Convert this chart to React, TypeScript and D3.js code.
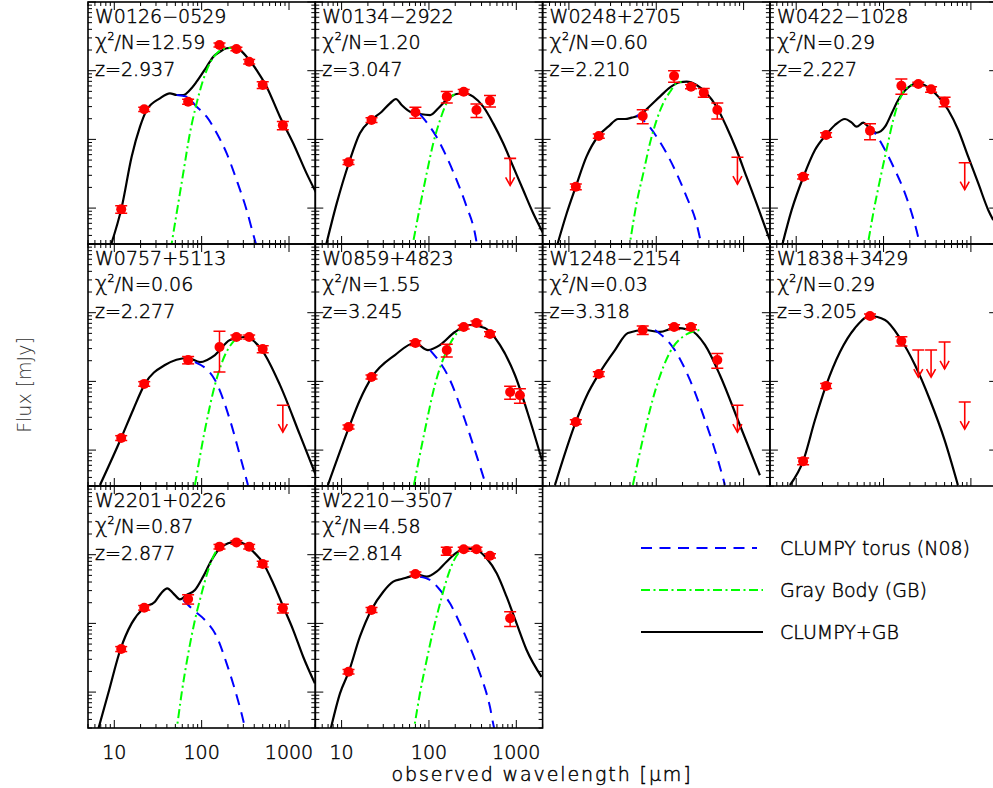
import React from "react";
import * as d3 from "d3";

// ---------- text ----------
const names = ["W0126−0529", "W0134−2922", "W0248+2705", "W0422−1028", "W0757+5113", "W0859+4823", "W1248−2154", "W1838+3429", "W2201+0226", "W2210−3507"];
const chi2 = ["12.59", "1.20", "0.60", "0.29", "0.06", "1.55", "0.03", "0.29", "0.87", "4.58"];
const redshifts = ["2.937", "3.047", "2.210", "2.227", "2.277", "3.245", "3.318", "3.205", "2.877", "2.814"];
const xTickLabels = [10, 100, 1000];
const legendLabels = ["CLUMPY torus (N08)", "Gray Body (GB)", "CLUMPY+GB"];

const lambdaRange = [5, 2000]; // micron
const fluxRange = [0.3, 1000]; // mJy

// ---------- data: [lambda(um), flux(mJy), err] or [lambda, flux, errLo, errHi] ----------
const phot0 = [[12, 0.96, 0.12], [22, 27.4, 2], [70, 35.4, 3], [160, 237, 15], [250, 207, 12], [350, 135, 10], [500, 62, 7], [850, 16, 2.2]];
const ul0: number[][] = [];
const total0 = [[8.8, 0.25], [12.2, 1.05], [15.8, 5.6], [19.7, 15.3], [23.5, 26.8], [33.3, 39.6], [43.4, 46.9], [51.7, 44.3], [61.5, 44.3], [73.4, 52.4], [87.6, 69.2], [114, 114], [136, 160], [162, 189], [193, 212], [230, 216], [274, 200], [327, 160], [426, 102], [554, 58.5], [787, 21.4], [1117, 8.8], [1589, 3.2], [2256, 1.31]];
const torus0 = [[51.7, 44.3], [67.3, 41.9], [87.6, 29.9], [114, 21.4], [149, 12.3], [193, 6.3], [251, 2.57], [327, 0.94], [407, 0.34], [465, 0.19]];
const gb0 = [[44.2, 0.25], [51.7, 0.84], [61.5, 3.2], [73.4, 12.3], [87.6, 33.5], [104, 73.2], [124, 128], [149, 179], [177, 207], [230, 216]];

const phot1 = [[12, 4.65, 0.35], [22, 19.1, 1.5], [70, 24.8, 4.5], [160, 41.9, 8], [250, 49.4, 4], [350, 26.8, 6], [500, 36.6, 7]];
const ul1 = [[850, 5.3]];
const total1 = [[6.46, 0.25], [8.79, 1.17], [12.2, 4.65], [16.2, 12.3], [21.7, 19.1], [28.8, 25.3], [35.8, 33.5], [41.9, 38.7], [48.7, 31.7], [60.7, 25.3], [78.9, 23.4], [103, 22.6], [128, 28.4], [159, 37.5], [207, 45.8], [258, 46.9], [321, 41.9], [418, 29.9], [544, 17.1], [708, 8.77], [922, 4.0], [1199, 1.83], [1561, 0.84], [2032, 0.43]];
const torus1 = [[78.9, 23.4], [90, 19.1], [122, 10.9], [159, 5.6], [207, 2.57], [270, 1.05], [336, 0.43], [366, 0.23]];
const gb1 = [[61, 0.19], [65, 0.29], [78.9, 1.05], [94.2, 3.2], [112, 8.77], [134, 19.1], [159, 33.5], [190, 44.3], [207, 45.8]];

const phot2 = [[12, 2.05, 0.2], [22, 11.2, 0.8], [70, 21.9, 5], [160, 83.7, 16], [250, 58.5, 4], [350, 47.9, 7], [500, 26.8, 7]];
const ul2 = [[850, 5.5]];
const total2 = [[7.12, 0.25], [9.44, 0.84], [12.0, 2.05], [15.9, 5.6], [21.7, 11.2], [28.2, 15.3], [36.7, 19.8], [43.9, 19.8], [52.1, 20.7], [65.0, 22.6], [84.7, 30.6], [110, 41.9], [144, 57.3], [187, 67.8], [222, 69.2], [289, 61.9], [376, 46.9], [490, 29.9], [637, 15.3], [830, 7.0], [1079, 2.86], [1406, 1.17], [2000, 0.34]];
const torus2 = [[59.5, 22.6], [77.5, 17.1], [101, 10.9], [131, 6.3], [171, 3.2], [222, 1.47], [289, 0.6], [321, 0.34], [348, 0.23]];
const gb2 = [[48.2, 0.23], [50, 0.31], [59.5, 1.17], [71, 3.2], [84.7, 8.77], [101, 19.1], [120, 33.5], [144, 49.4], [171, 65.6], [195, 69.2]];

const phot3 = [[12, 2.86, 0.2], [22, 11.6, 0.9], [70, 13.4, 3.5], [160, 60.5, 15], [250, 64, 4], [350, 53.6, 5], [500, 35.4, 5.5]];
const ul3 = [[850, 4.58]];
const total3 = [[6.82, 0.27], [8.88, 0.94], [12.1, 2.86], [16.4, 7.0], [21.9, 11.6], [27.8, 16.2], [36.2, 19.8], [43.2, 17.5], [49.2, 15.3], [58.6, 17.5], [66.8, 15.3], [83.4, 12.5], [104, 15.3], [124, 24.0], [147, 37.5], [192, 57.3], [249, 65.6], [324, 57.3], [423, 41.9], [550, 26.8], [716, 13.7], [931, 5.6], [1213, 2.3], [1578, 0.94], [1800, 0.67]];
const torus3 = [[66.8, 15.3], [79.7, 12.3], [104, 7.0], [135, 3.59], [176, 1.64], [210, 0.84], [249, 0.38], [267, 0.25]];
const gb3 = [[62, 0.19], [65.8, 0.29], [76.2, 0.84], [91, 2.57], [108, 7.0], [129, 19.1], [147, 33.5], [176, 52.4], [210, 61.9]];

const phot4 = [[12, 1.5, 0.12], [22, 9.2, 0.7], [70, 20.5, 2.5], [160, 31.7, 18, 22], [250, 44.3, 3], [350, 44.3, 3], [500, 29.6, 3.5]];
const ul4 = [[850, 4.5]];
const total4 = [[6.86, 0.31], [12, 1.5], [16.4, 3.84], [22.4, 9.2], [38, 17.3], [69.7, 21.9], [95.7, 19.1], [142, 24.2], [211, 40.1], [313, 44.3], [490, 28.6], [787, 8.9], [1334, 1.66], [2032, 0.43]];
const torus4 = [[83.8, 19.1], [142, 10.5], [211, 2.74], [274, 0.84], [339, 0.31]];
const gb4 = [[83.8, 0.31], [109, 1.96], [142, 8.9], [185, 24.2], [240, 40.1]];

const phot5 = [[12, 2.17, 0.15], [22, 11.6, 0.8], [70, 36.2, 3], [160, 28.6, 6], [250, 61.9, 4], [350, 70.8, 5], [500, 49, 4], [850, 7.0, 1.5], [1100, 6.3, 1.5]];
const ul5: number[][] = [];
const total5 = [[6.98, 0.31], [12.2, 2.17], [16.2, 5.36], [22.3, 11.6], [40.8, 24.2], [69.2, 36.2], [97.5, 28.6], [134, 33.9], [198, 52.4], [294, 66.2], [437, 60], [649, 33.9], [964, 12.4], [1431, 2.74], [1963, 0.72]];
const torus5 = [[103, 28.6], [174, 10.5], [258, 2.74], [364, 0.72], [449, 0.31]];
const gb5 = [[67.3, 0.31], [90, 1.96], [117, 8.9], [161, 28.6], [226, 56], [294, 66.2]];

const phot6 = [[12, 2.57, 0.2], [22, 12.8, 1], [70, 56, 8], [160, 61.9, 5], [250, 61.9, 5], [500, 20.5, 5]];
const ul6 = [[850, 4.5]];
const total6 = [[6.93, 0.31], [12, 2.57], [16.1, 6.3], [22, 12.8], [33.7, 28.6], [47.4, 50.6], [74.3, 56], [110, 52.4], [163, 60], [243, 56], [361, 33.9], [535, 12.4], [908, 2.3], [1535, 0.43]];
const torus6 = [[96.6, 56], [163, 28.6], [243, 10.5], [361, 2.74], [508, 0.72], [611, 0.31]];
const gb6 = [[54, 0.31], [74.3, 1.96], [102, 8.9], [144, 26.8], [213, 46.9], [316, 56]];

const phot7 = [[12, 0.69, 0.08], [22, 8.6, 0.7], [70, 89.5, 6], [160, 38.7, 6]];
const ul7 = [[250, 28.6], [350, 28.6], [500, 37.5], [850, 5.0]];
const total7 = [[8.5, 0.31], [12, 0.69], [16.4, 2.74], [21.9, 8.6], [31.7, 26.8], [47.1, 60], [69.8, 89.5], [104, 78.3], [154, 42.8], [229, 17.3], [340, 5.36], [500, 1.4], [710, 0.31]];
const torus7: number[][] = [];
const gb7: number[][] = [];

const phot8 = [[12, 4.24, 0.35], [22, 16.9, 1.3], [70, 22.6, 3.5], [160, 131, 10], [250, 151, 9], [350, 131, 10], [500, 73.2, 7], [850, 16.6, 2.4]];
const ul8: number[][] = [];
const total8 = [[6.56, 0.29], [8.53, 0.96], [11.8, 4.24], [15.8, 10.0], [22.0, 16.9], [29.2, 20.7], [34.8, 28.0], [40.4, 32.4], [47.3, 27.4], [56.5, 22.4], [67.3, 25.9], [83.8, 30.6], [104, 47.9], [130, 83.7], [162, 124], [201, 147], [251, 155], [313, 142], [389, 111], [507, 75], [659, 38.4], [859, 17.5], [1117, 8.0], [1453, 3.27], [1977, 1.34]];
const torus8 = [[61.5, 21.9], [80.2, 15.7], [109, 11.2], [149, 6.4], [193, 2.62], [241, 1.07], [299, 0.39], [321, 0.26]];
const gb8 = [[50.1, 0.23], [51.7, 0.29], [59, 0.96], [70.3, 3.67], [83.8, 11.2], [100, 27.4], [119, 59.8], [142, 105], [162, 131]];

const phot9 = [[12, 1.98, 0.15], [22, 15.7, 1.3], [70, 52.4, 3.5], [160, 113, 15], [250, 120, 8], [350, 120, 8], [500, 96.6, 7], [850, 11.9, 2.9]];
const ul9: number[][] = [];
const total9 = [[7.5, 0.29], [9.59, 0.96], [12.1, 1.98], [16.2, 6.4], [21.9, 15.7], [30, 28.9], [39, 40.5], [48.7, 44.3], [60.7, 47.9], [72.3, 51.9], [94.2, 47.9], [122, 56.6], [159, 79.1], [207, 107], [270, 124], [352, 117], [457, 88.7], [596, 53.6], [774, 24.5], [1007, 10.0], [1312, 4.1], [1946, 1.67]];
const torus9 = [[78.9, 47.9], [103, 42.8], [134, 30.6], [174, 19.6], [226, 10.0], [294, 4.58], [383, 1.88], [499, 0.61], [554, 0.31], [589, 0.23]];
const gb9 = [[65.3, 0.23], [67.9, 0.31], [78.9, 0.96], [94.2, 2.93], [112, 8.0], [134, 19.6], [159, 42.8], [190, 79.1], [226, 111], [270, 124]];

const panels = [
  { phot: phot0, ul: ul0, total: total0, torus: torus0, gb: gb0 },
  { phot: phot1, ul: ul1, total: total1, torus: torus1, gb: gb1 },
  { phot: phot2, ul: ul2, total: total2, torus: torus2, gb: gb2 },
  { phot: phot3, ul: ul3, total: total3, torus: torus3, gb: gb3 },
  { phot: phot4, ul: ul4, total: total4, torus: torus4, gb: gb4 },
  { phot: phot5, ul: ul5, total: total5, torus: torus5, gb: gb5 },
  { phot: phot6, ul: ul6, total: total6, torus: torus6, gb: gb6 },
  { phot: phot7, ul: ul7, total: total7, torus: torus7, gb: gb7 },
  { phot: phot8, ul: ul8, total: total8, torus: torus8, gb: gb8 },
  { phot: phot9, ul: ul9, total: total9, torus: torus9, gb: gb9 },
];

// ---------- layout ----------
const LEFT = 88;
const TOP = 2;
const PW = 227.3;
const PH = 242;
const FONT = "'DejaVu Sans', sans-serif";
const FW = 200;
const FS = 19;
const TSTROKE = 0.45;
const BLUE = "#0000ff";
const GREEN = "#00ff00";
const RED = "#ff0000";
const BLUE_DASH = "11,7.5";
const GREEN_DASH = "9,3.5,2,3.5";

function logTicks(lo: number, hi: number) {
  const out: { v: number; major: boolean }[] = [];
  for (let e = -2; e <= 4; e++) {
    for (let k = 1; k <= 9; k++) {
      const v = k * Math.pow(10, e);
      if (v >= lo * 0.999 && v <= hi * 1.001) out.push({ v, major: k === 1 });
    }
  }
  return out;
}

const textStyle = {
  fontFamily: FONT,
  fontWeight: FW,
  fontSize: FS,
  fill: "#000",
  stroke: "#000",
  strokeWidth: TSTROKE,
};

function Panel({ i }: { i: number }) {
  const p = panels[i];
  const col = i % 4;
  const row = Math.floor(i / 4);
  const L = LEFT + col * PW;
  const T = TOP + row * PH;
  const x = d3.scaleLog().domain(lambdaRange).range([L, L + PW]);
  const y = d3.scaleLog().domain(fluxRange).range([T + PH, T]);
  const line = d3
    .line<number[]>()
    .x((d) => x(d[0]))
    .y((d) => y(d[1]))
    .curve(d3.curveMonotoneX);
  const clipId = `clip${i}`;
  const xt = logTicks(lambdaRange[0], lambdaRange[1]);
  const yt = logTicks(fluxRange[0], fluxRange[1]);
  const tx = L + 7;
  return (
    <g>
      <defs>
        <clipPath id={clipId}>
          <rect x={L} y={T} width={PW} height={PH} />
        </clipPath>
      </defs>
      <g clipPath={`url(#${clipId})`}>
        <path d={line(p.total) || ""} fill="none" stroke="#000" strokeWidth={2.2} />
        {p.torus.length > 0 && (
          <path d={line(p.torus) || ""} fill="none" stroke={BLUE} strokeWidth={2} strokeDasharray={BLUE_DASH} />
        )}
        {p.gb.length > 0 && (
          <path d={line(p.gb) || ""} fill="none" stroke={GREEN} strokeWidth={2} strokeDasharray={GREEN_DASH} />
        )}
        {p.phot.map((d, j) => {
          const lo = d[2];
          const hi = d.length > 3 ? d[3] : d[2];
          const cx = x(d[0]);
          const y1 = y(Math.max(d[1] - lo, 0.01));
          const y2 = y(d[1] + hi);
          return (
            <g key={j} stroke={RED} strokeWidth={1.5}>
              <line x1={cx} x2={cx} y1={y1} y2={y2} />
              <line x1={cx - 6} x2={cx + 6} y1={y1} y2={y1} />
              <line x1={cx - 6} x2={cx + 6} y1={y2} y2={y2} />
              <circle cx={cx} cy={y(d[1])} r={5} fill={RED} stroke="none" />
            </g>
          );
        })}
        {p.ul.map((d, j) => {
          const cx = x(d[0]);
          const cy = y(d[1]);
          const ye = cy + 27;
          return (
            <g key={j} stroke={RED} strokeWidth={1.6} fill="none">
              <line x1={cx - 6} x2={cx + 6} y1={cy} y2={cy} />
              <line x1={cx} x2={cx} y1={cy} y2={ye} />
              <polyline points={`${cx - 4.5},${ye - 8} ${cx},${ye} ${cx + 4.5},${ye - 8}`} />
            </g>
          );
        })}
      </g>
      {/* ticks */}
      <g stroke="#000" strokeWidth={1}>
        {xt.map((t, j) => {
          const len = t.major ? 8 : 4;
          const xx = x(t.v);
          return (
            <g key={"x" + j}>
              <line x1={xx} x2={xx} y1={T + PH} y2={T + PH - len} />
              <line x1={xx} x2={xx} y1={T} y2={T + len} />
            </g>
          );
        })}
        {yt.map((t, j) => {
          const len = t.major ? 8 : 4;
          const yy = y(t.v);
          return (
            <g key={"y" + j}>
              <line x1={L} x2={L + len} y1={yy} y2={yy} />
              <line x1={L + PW} x2={L + PW - len} y1={yy} y2={yy} />
            </g>
          );
        })}
      </g>
      <rect x={L} y={T} width={PW} height={PH} fill="none" stroke="#000" strokeWidth={1.6} />
      {/* labels */}
      <g style={textStyle}>
        <text x={tx} y={T + 21}>{names[i]}</text>
        <text x={tx} y={T + 47}>
          <tspan fontSize={21}>χ</tspan>
          <tspan dy={-9} fontSize={11}>2</tspan>
          <tspan dy={9}>/N={chi2[i]}</tspan>
        </text>
        <text x={tx} y={T + 74}>z={redshifts[i]}</text>
      </g>
      {row === 2 &&
        xTickLabels.map((v) => (
          <text key={v} x={x(v)} y={759} textAnchor="middle" style={textStyle}>
            {v}
          </text>
        ))}
    </g>
  );
}

export default function App() {
  const lx1 = 641;
  const lx2 = 763;
  const ly = [548, 590, 632];
  return (
    <svg width={993} height={788} style={{ position: "absolute", left: 0, top: 0, background: "#fff" }}>
      <rect x={0} y={0} width={993} height={788} fill="#fff" />
      {panels.map((_, i) => (
        <Panel key={i} i={i} />
      ))}
      {/* legend */}
      <line x1={lx1} x2={lx2 - 6} y1={ly[0]} y2={ly[0]} stroke={BLUE} strokeWidth={2} strokeDasharray={BLUE_DASH} />
      <line x1={lx1} x2={lx2} y1={ly[1]} y2={ly[1]} stroke={GREEN} strokeWidth={2} strokeDasharray={GREEN_DASH} />
      <line x1={lx1} x2={lx2} y1={ly[2]} y2={ly[2]} stroke="#000" strokeWidth={2.2} />
      {legendLabels.map((s, j) => (
        <text key={s} x={780} y={ly[j] + 7} style={textStyle}>
          {s}
        </text>
      ))}
      <text x={542} y={781} textAnchor="middle" style={textStyle} letterSpacing={1.9}>
        observed wavelength [μm]
      </text>
      <text
        transform="translate(31,385) rotate(-90)"
        textAnchor="middle"
        style={{ fontFamily: FONT, fontWeight: FW, fontSize: FS, fill: "#333" }}
      >
        Flux [mJy]
      </text>
    </svg>
  );
}
